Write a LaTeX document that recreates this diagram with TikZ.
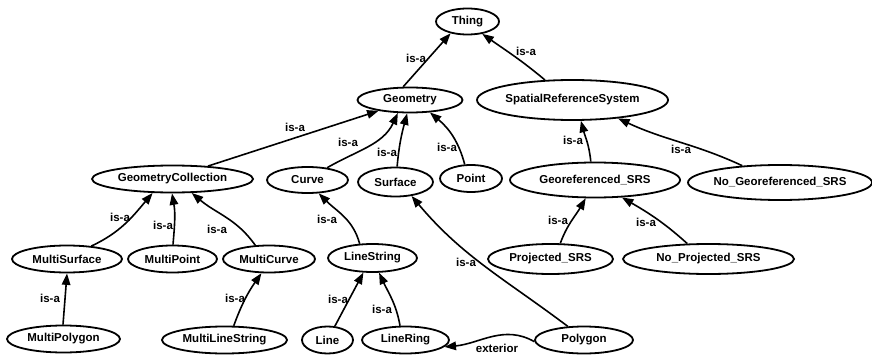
\documentclass[tikz,border=0pt]{standalone}
\usepackage{fontspec}
\setmainfont{Liberation Sans}
\usetikzlibrary{arrows.meta,shapes.geometric}
\newcommand\nt[1]{\makebox[0pt]{#1}}
\tikzset{
  nd/.style={ellipse, draw, line width=1.8pt, inner sep=0pt, font=\bfseries\fontsize{11.5}{13}\selectfont},
  lab/.style={inner sep=0pt, font=\bfseries\fontsize{11.5}{13}\selectfont},
  edge/.style={line width=1.6pt, -{Triangle[length=11.5pt,width=8.5pt]}}
}
\begin{document}
\begin{tikzpicture}[x=1pt,y=1pt]
\useasboundingbox (0,0) rectangle (872,354);
% nodes
\node[nd, minimum width=63pt, minimum height=26pt] (thing) at (467.5,332.5) {\nt{Thing}};
\node[nd, minimum width=105pt, minimum height=25pt] (geo) at (410,254) {\nt{Geometry}};
\node[nd, minimum width=191pt, minimum height=40pt] (srs) at (572.5,254) {\nt{SpatialReferenceSystem}};
\node[nd, minimum width=161pt, minimum height=27pt] (gc) at (172.5,175) {\nt{GeometryCollection}};
\node[nd, minimum width=81pt, minimum height=26pt] (curve) at (307.5,174) {\nt{Curve}};
\node[nd, minimum width=75pt, minimum height=29pt] (surface) at (395.5,172) {\nt{Surface}};
\node[nd, minimum width=62pt, minimum height=27pt] (point) at (471,175.5) {\nt{Point}};
\node[nd, minimum width=170pt, minimum height=35pt] (geosrs) at (595,174) {\nt{Georeferenced\_SRS}};
\node[nd, minimum width=184pt, minimum height=35pt] (nogeosrs) at (780,171.5) {\nt{No\_Georeferenced\_SRS}};
\node[nd, minimum width=110pt, minimum height=27pt] (msurf) at (67,95) {\nt{MultiSurface}};
\node[nd, minimum width=89pt, minimum height=27pt] (mpoint) at (172.5,95) {\nt{MultiPoint}};
\node[nd, minimum width=92pt, minimum height=27pt] (mcurve) at (269,95) {\nt{MultiCurve}};
\node[nd, minimum width=89pt, minimum height=28pt] (lstring) at (372.5,96) {\nt{LineString}};
\node[nd, minimum width=125pt, minimum height=30pt] (proj) at (550.5,95) {\nt{Projected\_SRS}};
\node[nd, minimum width=171pt, minimum height=30pt] (noproj) at (708.5,95) {\nt{No\_Projected\_SRS}};
\node[nd, minimum width=113pt, minimum height=27pt] (mpoly) at (63.5,15) {\nt{MultiPolygon}};
\node[nd, minimum width=125pt, minimum height=27pt] (mls) at (224.5,14) {\nt{MultiLineString}};
\node[nd, minimum width=51pt, minimum height=27pt] (line) at (327.5,14) {\nt{Line}};
\node[nd, minimum width=87pt, minimum height=27pt] (lring) at (405.5,14) {\nt{LineRing}};
\node[nd, minimum width=98pt, minimum height=27pt] (poly) at (584,14) {\nt{Polygon}};
% edges
\draw[edge] (geo.117) -- (thing.215);
\draw[edge] (srs.144) to[out=140,in=-35] (thing.320);
\draw[edge] (gc.20) -- (geo.199);
\draw[edge] (curve.32) to[out=30,in=245] (geo.227);
\draw[edge] (surface.84) to[out=85,in=255] (geo.258);
\draw[edge] (point.114) to[out=105,in=-40] (geo.328);
\draw[edge] (geosrs.103) to[out=95,in=-75] (srs.292);
\draw[edge] (nogeosrs.156) to[out=155,in=-25] (srs.338);
\draw[edge] (msurf.28) to[out=25,in=230] (gc.215);
\draw[edge] (mpoint.88) to[out=85,in=-80] (gc.268);
\draw[edge] (mcurve.135) to[out=125,in=-40] (gc.324);
\draw[edge] (lstring.132) to[out=105,in=-45] (curve.310);
\draw[edge] (mpoly.92) -- (msurf.270);
\draw[edge] (mls.57) to[out=70,in=235] (mcurve.242);
\draw[edge] (line.62) -- (lstring.238);
\draw[edge] (lring.111) to[out=100,in=-65] (lstring.294);
\draw[edge] (poly.140) to[out=143,in=-50] (surface.319);
\draw[edge] (proj.58) to[out=70,in=240] (geosrs.243);
\draw[edge] (noproj.144) to[out=138,in=-30] (geosrs.327);
\draw[edge] (poly.182) to[out=150,in=5] (lring.350);
% labels
\node[lab] (l1) at (416,296) {is-a};
\node[lab] (l2) at (526,303) {is-a};
\node[lab] (l3) at (295,227) {is-a};
\node[lab] (l4) at (348,212) {is-a};
\node[lab] (l5) at (387,202) {is-a};
\node[lab] (l6) at (447,207) {is-a};
\node[lab] (l7) at (573,214) {is-a};
\node[lab] (l8) at (681,205) {is-a};
\node[lab] (l9) at (120,137) {is-a};
\node[lab] (l10) at (163,129) {is-a};
\node[lab] (l11) at (217,125) {is-a};
\node[lab] (l12) at (327,135) {is-a};
\node[lab] (l13) at (50,56) {is-a};
\node[lab] (l14) at (235,56) {is-a};
\node[lab] (l15) at (338,55) {is-a};
\node[lab] (l16) at (382,45) {is-a};
\node[lab] (l17) at (466,92) {is-a};
\node[lab] (l18) at (558,134) {is-a};
\node[lab] (l19) at (646,132) {is-a};
\node[lab] (l20) at (497,6) {exterior};
\end{tikzpicture}
\end{document}
